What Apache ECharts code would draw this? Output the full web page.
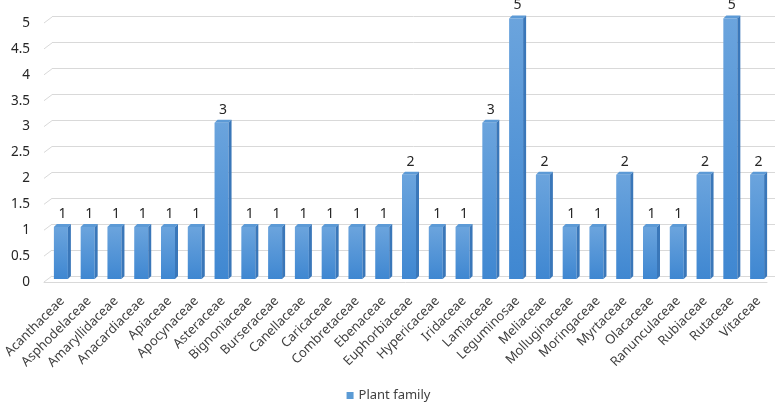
<!DOCTYPE html>
<html>
<head>
<meta charset="utf-8">
<script src="https://cdn.jsdelivr.net/npm/echarts@6/dist/echarts.min.js"></script>
<style>
  html, body { margin: 0; padding: 0; background: #fff; }
  #chart { width: 777px; height: 408px; }
</style>
</head>
<body>
<div id="chart"></div>
<script>
const categories = ['Acanthaceae','Asphodelaceae','Amaryllidaceae','Anacardiaceae','Apiaceae','Apocynaceae','Asteraceae','Bignoniaceae','Burseraceae','Canellaceae','Caricaceae','Combretaceae','Ebenaceae','Euphorbiaceae','Hypericaceae','Iridaceae','Lamiaceae','Leguminosae','Meliaceae','Molluginaceae','Moringaceae','Myrtaceae','Olacaceae','Ranunculaceae','Rubiaceae','Rutaceae','Vitaceae'];
const values = [1,1,1,1,1,1,3,1,1,1,1,1,1,2,1,1,3,5,2,1,1,2,1,1,2,5,2];
const yTicks = [0,0.5,1,1.5,2,2.5,3,3.5,4,4.5,5];
const seriesName = 'Plant family';

const FONT = 'Noto Sans';
const chart = echarts.init(document.getElementById('chart'), null, {renderer: 'canvas'});

const barData = values.map((v, i) => [i, v]);

function renderBar(params, api) {
  const i = api.value(0), v = api.value(1);
  const top = api.coord([i, v]);
  const base = api.coord([i, 0]);
  const w = 14, dx = 3, dy = -3;
  const x0 = top[0] - (w + dx) / 2;
  const yt = top[1], yb = base[1];
  return {
    type: 'group',
    children: [
      {type: 'rect', shape: {x: x0, y: yt, width: w, height: yb - yt},
       style: {fill: new echarts.graphic.LinearGradient(0, 0, 0, 1, [
         {offset: 0, color: '#6ba4dd'}, {offset: 1, color: '#3f87d1'}])}},
      {type: 'polygon', shape: {points: [[x0, yt], [x0 + dx, yt + dy], [x0 + w + dx, yt + dy], [x0 + w, yt]]},
       style: {fill: '#5c9ad6'}},
      {type: 'polygon', shape: {points: [[x0 + w, yt], [x0 + w + dx, yt + dy], [x0 + w + dx, yb + dy], [x0 + w, yb]]},
       style: {fill: '#3a77b9'}},
      {type: 'text', style: {text: String(v), x: top[0], y: yt - 6, align: 'center', verticalAlign: 'bottom',
       fill: '#262626', font: '14px "' + FONT + '"'}}
    ]
  };
}

function renderConnector(params, api) {
  const t = api.value(0);
  const p = api.coord([0, t]);
  const cs = params.coordSys;
  return {type: 'line', shape: {x1: cs.x, y1: p[1], x2: cs.x + 8, y2: p[1] - 6},
          style: {stroke: '#d9d9d9', lineWidth: 1}};
}

const option = {
  animation: false,
  backgroundColor: '#fff',
  textStyle: {fontFamily: FONT},
  legend: {
    bottom: 1, left: 'center', icon: 'rect', itemWidth: 7, itemHeight: 7,
    data: [seriesName],
    textStyle: {fontSize: 13, color: '#404040', fontFamily: FONT}
  },
  grid: [
    {left: 44, right: 10, top: 23, bottom: 126},   // front plane (y labels, floor edge)
    {left: 49, right: 5, top: 18.5, bottom: 129},   // bar plane
    {left: 52, right: 2, top: 16, bottom: 132}      // back wall
  ],
  xAxis: [
    {gridIndex: 0, type: 'category', data: categories, axisLine: {show: true, lineStyle: {color: '#d9d9d9'}},
     axisTick: {show: false}, axisLabel: {show: false}, splitLine: {show: false}},
    {gridIndex: 1, type: 'category', data: categories, axisLine: {show: false}, axisTick: {show: false},
     axisLabel: {interval: 0, rotate: 45, margin: 20, fontSize: 13, color: '#404040', fontFamily: FONT},
     splitLine: {show: false}},
    {gridIndex: 2, type: 'category', data: categories, show: false}
  ],
  yAxis: [
    {gridIndex: 0, type: 'value', min: 0, max: 5, interval: 0.5, axisLine: {show: false}, axisTick: {show: false},
     splitLine: {show: false}, axisLabel: {margin: 14, fontSize: 13.5, color: '#262626', fontFamily: FONT}},
    {gridIndex: 1, type: 'value', min: 0, max: 5, interval: 0.5, show: false},
    {gridIndex: 2, type: 'value', min: 0, max: 5, interval: 0.5, axisLine: {show: false}, axisTick: {show: false},
     axisLabel: {show: false}, splitLine: {show: true, lineStyle: {color: '#d9d9d9', width: 1}}}
  ],
  series: [
    {type: 'custom', xAxisIndex: 0, yAxisIndex: 0, renderItem: renderConnector,
     data: yTicks.map(t => [t]), encode: {y: 0}, silent: true, z: 1},
    {type: 'custom', name: seriesName, xAxisIndex: 1, yAxisIndex: 1, renderItem: renderBar,
     data: barData, encode: {x: 0, y: 1}, itemStyle: {color: '#5b9bd5'}, z: 3}
  ]
};
chart.setOption(option);
</script>
</body>
</html>
